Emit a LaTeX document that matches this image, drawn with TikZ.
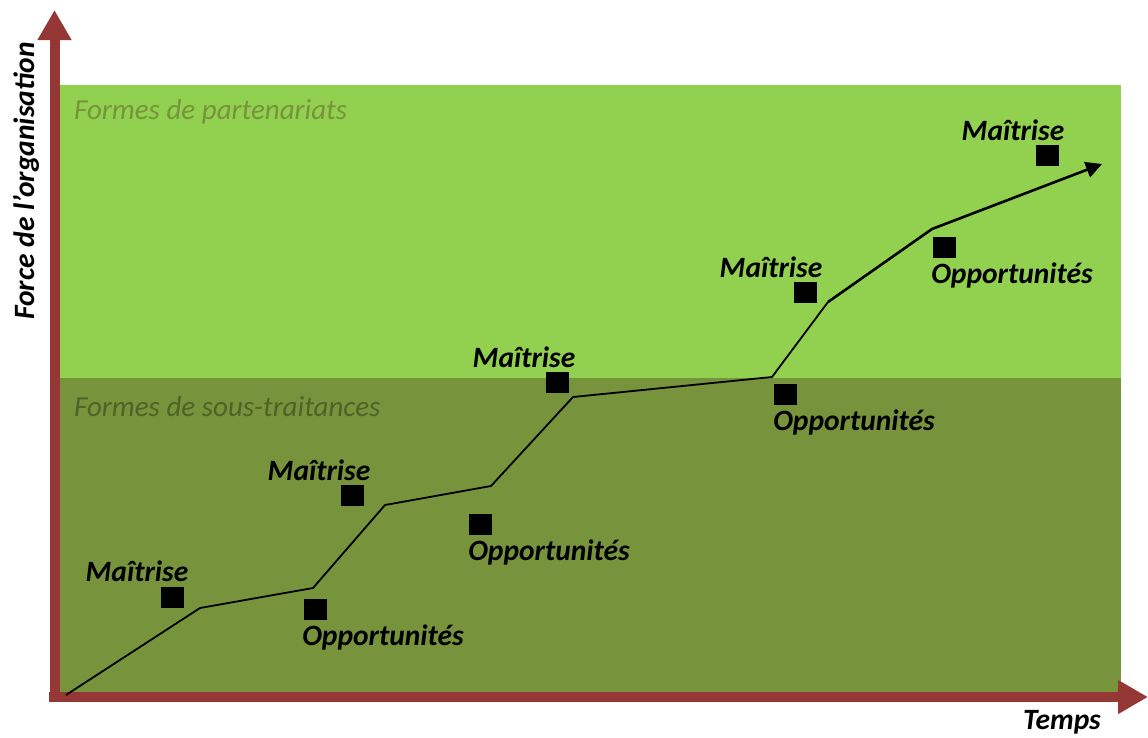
\documentclass[tikz,border=0pt]{standalone}
\usepackage{fontspec}
\setmainfont{Carlito}
\usetikzlibrary{arrows.meta}
\definecolor{lightgreen}{HTML}{92D050}
\definecolor{olivegreen}{HTML}{77933C}
\definecolor{darkolive}{HTML}{4F6228}
\definecolor{axisred}{HTML}{953735}
\begin{document}
\begin{tikzpicture}[x=1pt,y=-1pt,
  axis/.style={draw=axisred,line width=10pt,-{Triangle[width=32pt,length=30pt]}},
  marker/.style={fill=black,minimum width=23pt,minimum height=21pt,inner sep=0pt},
  lbl/.style={font=\fontsize{29.5}{34}\selectfont\bfseries\itshape,inner sep=0pt},
  zone/.style={font=\fontsize{29}{34}\selectfont\itshape,inner sep=0pt,anchor=west},
  curve/.style={line width=1.8pt,line join=round}]
\useasboundingbox (0,0) rectangle (1148,737);
% background zones
\fill[lightgreen] (60,85) rectangle (1121,378);
\fill[olivegreen] (60,378) rectangle (1121,692);
\node[zone,text=olivegreen] (zp) at (74,112) {Formes de partenariats};
\node[zone,text=darkolive] (zs) at (74,407) {Formes de sous-traitances};
% axes
\coordinate (origin) at (49,697);
\coordinate (ytop) at (54.5,10);
\coordinate (xend) at (1148,697);
\draw[axis] (54.5,702) -- (ytop);
\draw[axis] (origin) -- (xend);
\node[lbl,rotate=90] (ylab) at (26,181) {Force de l’organisation};
\node[lbl] (xlab) at (1062,722) {Temps};
% growth curve
\coordinate (p0) at (66,695);
\coordinate (p1) at (200,608);
\coordinate (p2) at (313,588);
\coordinate (p3) at (385,505);
\coordinate (p4) at (491,486);
\coordinate (p5) at (573,397);
\coordinate (p6) at (772,377);
\coordinate (p7) at (828,302);
\coordinate (p8) at (932,229);
\coordinate (p9) at (1102,164);
\draw[curve] (p0) -- (p1) -- (p2) -- (p3) -- (p4) -- (p5) -- (p6) -- (p7);
\draw[curve,line width=2.6pt,-{Triangle[width=16pt,length=16pt]}] (p7) -- (p8) -- (p9);
% markers
\node[marker] (m1) at (172,597) {};
\node[marker] (o1) at (315,609) {};
\node[marker] (m2) at (352,495) {};
\node[marker] (o2) at (480,524) {};
\node[marker] (m3) at (557,382) {};
\node[marker] (o3) at (785,394) {};
\node[marker] (m4) at (805,292) {};
\node[marker] (o4) at (944,247) {};
\node[marker] (m5) at (1047,155) {};
% labels
\node[lbl] (lm1) at (137,571) {Maîtrise};
\node[lbl] (lo1) at (383,637) {Opportunités};
\node[lbl] (lm2) at (319,470) {Maîtrise};
\node[lbl] (lo2) at (549,552) {Opportunités};
\node[lbl] (lm3) at (524,357) {Maîtrise};
\node[lbl] (lo3) at (854,422) {Opportunités};
\node[lbl] (lm4) at (771,267) {Maîtrise};
\node[lbl] (lo4) at (1012,275) {Opportunités};
\node[lbl] (lm5) at (1013,130) {Maîtrise};
\end{tikzpicture}
\end{document}
